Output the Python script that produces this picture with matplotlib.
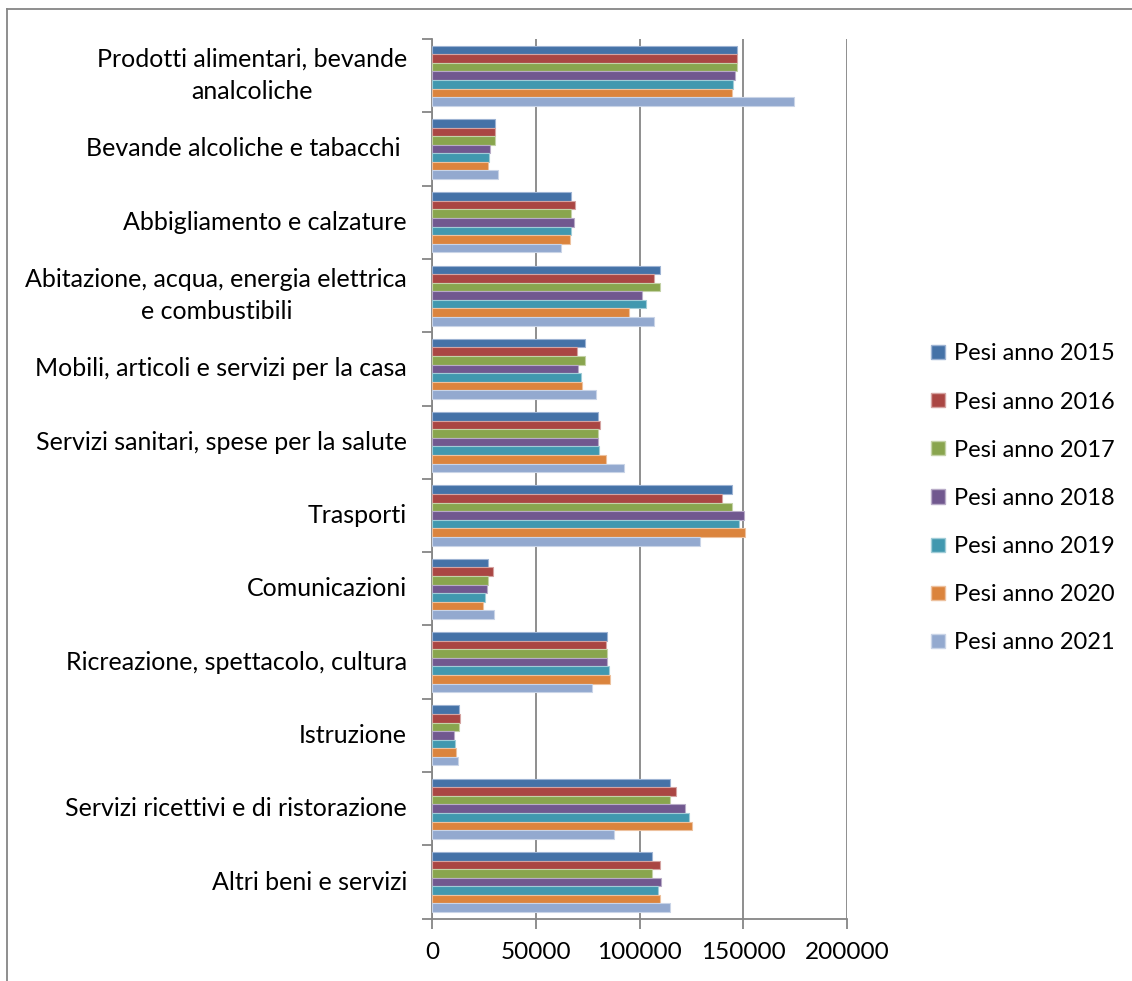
import numpy as np
import matplotlib
matplotlib.use("Agg")
from matplotlib import pyplot as plt
from matplotlib.patches import Patch
from matplotlib.lines import Line2D

plt.rcParams['font.family'] = ['Lato', 'DejaVu Sans']

categories = [
    "Prodotti alimentari, bevande\nanalcoliche",
    "Bevande alcoliche e tabacchi ",
    "Abbigliamento e calzature",
    "Abitazione, acqua, energia elettrica\ne combustibili",
    "Mobili, articoli e servizi per la casa",
    "Servizi sanitari, spese per la salute",
    "Trasporti",
    "Comunicazioni",
    "Ricreazione, spettacolo, cultura",
    "Istruzione",
    "Servizi ricettivi e di ristorazione",
    "Altri beni e servizi",
]

years = ["2015", "2016", "2017", "2018", "2019", "2020", "2021"]

pesi_2015 = [147100, 30500, 67100, 109800, 73900, 80200, 144800, 26900, 84500, 13100, 114500, 106000]
pesi_2016 = [147100, 30200, 68900, 106900, 70000, 80800, 139700, 29200, 84000, 13500, 117700, 109800]
pesi_2017 = [147100, 30300, 67100, 109800, 73900, 80000, 144800, 26900, 84500, 13100, 114500, 106000]
pesi_2018 = [146100, 28100, 68500, 101100, 70500, 79800, 150500, 26300, 84500, 10800, 121800, 110200]
pesi_2019 = [145200, 27700, 66900, 103200, 71600, 80600, 147900, 25600, 85500, 11100, 123700, 109000]
pesi_2020 = [144700, 26800, 66600, 94700, 72300, 83900, 151000, 24800, 85800, 11500, 125500, 110000]
pesi_2021 = [174400, 31800, 62300, 106900, 79200, 92600, 129000, 30000, 77100, 12300, 87700, 114800]

series = [pesi_2015, pesi_2016, pesi_2017, pesi_2018, pesi_2019, pesi_2020, pesi_2021]
colors = ["#4572A7", "#AA4643", "#89A54E", "#71588F", "#4198AF", "#DB843D", "#93A9CF"]
edges = ["#9DB3D3", "#D5A3A1", "#C4D2A7", "#B8ABC7", "#A0CCD7", "#EDC19E", "#C9D4E7"]
grey = "#868686"

fig = plt.figure(figsize=(11.32, 9.81), dpi=100)
ax = fig.add_axes([432 / 1132, (981 - 918.7) / 981, 415 / 1132, 879.7 / 981])

n = len(categories)
bar_h = 0.117
centers = np.arange(n)[::-1] + 0.5  # first category on top
for i, vals in enumerate(series):
    offs = (i - 3) * bar_h
    ax.barh(centers - offs, vals, height=bar_h, color=colors[i],
            edgecolor=edges[i], linewidth=0.8, zorder=3,
            label="Pesi anno " + years[i])

ax.set_xlim(0, 200000)
ax.set_ylim(0, n)
ax.set_xticks([0, 50000, 100000, 150000, 200000])
ax.set_xticklabels(["0", "50000", "100000", "150000", "200000"], fontsize=17.5)
ax.tick_params(axis='x', length=7, color=grey, width=1.3, pad=10)
ax.set_yticks(np.arange(n + 1))
ax.set_yticklabels([])
ax.tick_params(axis='y', length=7, color=grey, width=1.3)
ax.grid(axis='x', color=grey, linewidth=1.3, zorder=0)
for s in ["top", "right"]:
    ax.spines[s].set_visible(False)
for s in ["left", "bottom"]:
    ax.spines[s].set_color(grey)
    ax.spines[s].set_linewidth(1.3)

for c, lab in zip(centers, categories):
    ax.text(-12000, c, lab, ha='right', va='center', multialignment='center',
            fontsize=18, linespacing=1.5)

handles = [Patch(facecolor=colors[i], edgecolor=edges[i], label="Pesi anno " + years[i])
           for i in range(len(years))]
fig.legend(handles=handles, loc='center left', bbox_to_anchor=(919 / 1132, 0.492),
           frameon=False, fontsize=17, handlelength=0.62, handleheight=0.55,
           handletextpad=0.35, labelspacing=1.15, borderpad=0)

# outer chart-area border (top and left only visible in the crop)
fig.lines.append(Line2D([7 / 1132, 1.0], [1 - 9 / 981, 1 - 9 / 981],
                        transform=fig.transFigure, color=grey, linewidth=1.3))
fig.lines.append(Line2D([7 / 1132, 7 / 1132], [0, 1 - 9 / 981],
                        transform=fig.transFigure, color=grey, linewidth=1.3))

fig.savefig("out.png", dpi=100)
